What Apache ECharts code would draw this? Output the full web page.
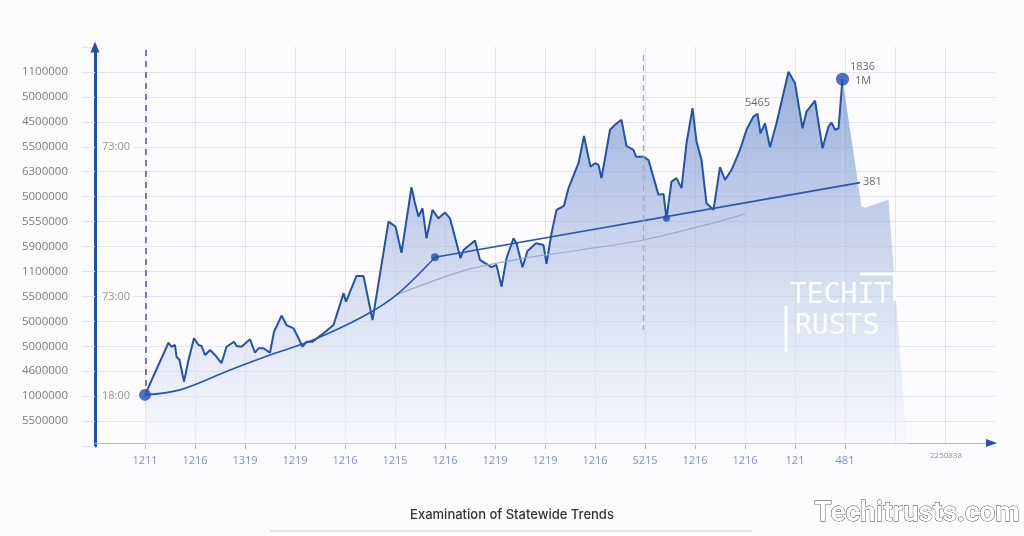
<!DOCTYPE html>
<html><head><meta charset="utf-8">
<script src="https://cdn.jsdelivr.net/npm/echarts@6/dist/echarts.min.js"></script>
<style>html,body{margin:0;padding:0;background:#fcfcfe}#c{width:1024px;height:536px}</style>
</head><body><div id="c"></div><script>
// ---- data (x in tick units, y in tick units) ----
const xTickLabels = ["1211","1216","1319","1219","1216","1215","1216","1219","1219","1216","5215","1216","1216","121","481"];
const yTickLabels = ["5500000","1000000","4600000","5000000","5000000","5500000","1100000","5900000","5550000","5000000","6300000","5500000","4500000","5000000","1100000"];
const xEndLabel = "2250838";

const mainX = [1.00,1.47,1.53,1.60,1.63,1.69,1.78,1.87,1.98,2.07,2.13,2.20,2.30,2.40,2.53,2.63,2.78,2.83,2.93,3.10,3.20,3.27,3.37,3.50,3.58,3.63,3.73,3.83,3.97,4.07,4.15,4.23,4.35,4.57,4.77,4.97,5.02,5.23,5.37,5.55,5.87,6.01,6.13,6.33,6.40,6.47,6.55,6.63,6.75,6.87,7.00,7.10,7.31,7.37,7.60,7.70,7.93,8.03,8.13,8.23,8.37,8.43,8.55,8.65,8.82,8.97,9.03,9.13,9.23,9.38,9.47,9.67,9.78,9.91,10.00,10.07,10.13,10.30,10.40,10.53,10.63,10.77,10.82,10.97,11.07,11.27,11.37,11.43,11.53,11.63,11.73,11.83,11.95,12.03,12.13,12.23,12.37,12.50,12.60,12.73,12.90,13.03,13.17,13.25,13.31,13.40,13.50,13.63,13.87,14.00,14.15,14.23,14.40,14.55,14.67,14.73,14.80,14.87,14.95];
const mainY = [2.05,4.14,3.98,4.05,3.58,3.45,2.58,3.45,4.32,4.05,4.01,3.65,3.85,3.65,3.32,3.98,4.18,4.01,3.98,4.28,3.74,3.92,3.92,3.74,4.58,4.79,5.23,4.85,4.72,4.32,3.98,4.18,4.18,4.52,4.85,6.12,5.79,6.82,6.82,5.05,9.00,8.80,7.75,10.38,9.73,9.20,9.53,8.33,9.47,9.13,9.36,9.13,7.53,7.86,8.24,7.46,7.17,7.26,6.39,7.53,8.33,8.13,7.17,7.82,8.13,8.06,7.30,8.53,9.47,9.63,10.34,11.34,12.43,11.20,11.34,11.27,10.74,12.68,12.88,13.08,12.03,11.87,11.60,11.60,11.47,10.07,10.11,9.13,10.60,10.74,10.34,12.14,13.55,12.21,11.47,9.73,9.47,11.18,10.67,11.07,11.87,12.68,13.21,13.32,12.54,12.94,11.98,12.94,15.01,14.55,12.74,13.41,13.85,11.94,12.81,12.97,12.68,12.74,14.71];

const tailX = [14.95,15.33,15.40,15.87,16.20,16.24];
const tailY = [14.71,9.60,9.55,9.87,1.04,0];

const trendAX = [1.00,1.70,2.70,3.50,4.36,5.36,6.03,6.80];
const trendAY = [2.05,2.25,3.05,3.65,4.25,5.19,6.06,7.57];
const trendBX = [6.80,15.30];
const trendBY = [7.57,10.56];
const trendCX = [6.03,7.36,8.50,9.70,10.96,12.36,13.00];
const trendCY = [6.06,7.02,7.50,7.86,8.26,8.94,9.31];

const dotX = [1.00,6.80,11.43,14.95];
const dotY = [2.05,7.57,9.13,14.71];

const noteTexts = ["1836","1M","5465","381"];
const noteX = [15.10,15.20,13.00,15.36];
const noteY = [15.20,14.64,13.76,10.59];

const sideTexts = ["73:00","73:00","18:00"];
const sideX = [0.42,0.42,0.42];
const sideY = [12.0,5.98,2.0];

const vline1 = {x:1.02, y0:15.88, y1:2.05};
const vline2 = {x:10.96, y0:15.68, y1:4.65};

// ---- chart ----
const zip = (xs, ys) => xs.map((x,i)=>[x, ys[i]]);
const grad = {type:'linear', x:0, y:70, x2:0, y2:446, global:true, colorStops:[
  {offset:0, color:'rgba(96,131,198,0.92)'},
  {offset:0.35, color:'rgba(150,172,219,0.85)'},
  {offset:0.61, color:'rgba(190,204,233,0.8)'},
  {offset:0.87, color:'rgba(224,230,245,0.75)'},
  {offset:1, color:'rgba(243,245,251,0.6)'}]};
const catData = [''].concat(xTickLabels, ['', '', '']);
const gridColor = '#e2e6ee';
const wm = 'rgba(255,255,255,0.96)';

const chart = echarts.init(document.getElementById('c'), null, {renderer:'canvas'});
chart.setOption({
  backgroundColor:'#fcfcfe',
  animation:false,
  title:{text:'Examination of Statewide Trends', left:'center', top:504,
    textStyle:{fontFamily:'Inter', fontSize:13, fontWeight:500, color:'#333'}},
  grid:{left:95, right:29, top:47, bottom:90},
  xAxis:[{
    type:'category', data:catData, boundaryGap:false, offset:-3,
    axisLine:{lineStyle:{color:'#a7b5d8', width:1.2}},
    axisTick:{show:true, interval:(i)=>i>=1&&i<=15, length:6, lineStyle:{color:'#aab3c6'}},
    axisLabel:{interval:0, margin:12, color:'#8393b6', fontFamily:'Open Sans', fontSize:11},
    splitLine:{show:true, interval:(i)=>i>=1&&i<=17, lineStyle:{color:gridColor, width:1}}
  },{
    type:'value', min:0, max:18, show:false
  }],
  yAxis:{
    type:'value', min:0, max:16, interval:1, offset:7,
    axisLine:{show:true, lineStyle:{color:'#2352a8', width:3}, symbol:['none','triangle'], symbolSize:[9,11]},
    axisTick:{show:true, length:13, lineStyle:{color:gridColor}},
    axisLabel:{margin:20, color:'#7c7c7c', fontFamily:'Open Sans', fontSize:11.5,
      formatter:(v)=> (v>=1 && v<=15 && Number.isInteger(v)) ? yTickLabels[v-1] : ''},
    splitLine:{show:true, showMinLine:false, showMaxLine:false, lineStyle:{color:gridColor, width:1}}
  },
  graphic:[
    {type:'line', shape:{x1:270,y1:531,x2:752,y2:531}, style:{stroke:'#c9c9c9', lineWidth:1}},
    {type:'text', left:930, top:452, style:{text:xEndLabel, fill:'#8393b6', font:'8px "Open Sans"'}},
    {type:'text', z:100, left:790, top:282, style:{text:'TECHIT', fill:wm, font:'28px "DejaVu Sans Mono"'}},
    {type:'text', z:100, left:795, top:313, style:{text:'RUSTS', fill:wm, font:'28px "DejaVu Sans Mono"'}},
    {type:'rect', z:100, shape:{x:784.5, y:306, width:3, height:46}, style:{fill:wm}},
    {type:'rect', z:100, shape:{x:860, y:272.5, width:36, height:3}, style:{fill:wm}},
    {type:'rect', z:100, shape:{x:893, y:272.5, width:3, height:28}, style:{fill:wm}},
    {type:'text', z:100, right:4, top:500, style:{text:'Techitrusts.com', fill:'#ffffff', font:'bold 28px Roboto',
      stroke:'#333', lineWidth:0.8, shadowBlur:5, shadowColor:'rgba(0,0,0,0.85)'}}
  ],
  series:[
    {type:'line', name:'tail', xAxisIndex:1, data:zip(tailX, tailY), symbol:'none', z:2,
      lineStyle:{width:0, opacity:0}, areaStyle:{color:grad}},
    {type:'line', name:'main', xAxisIndex:1, data:zip(mainX, mainY), symbol:'none', z:3,
      lineStyle:{color:'#2352a8', width:2}, areaStyle:{color:grad}},
    {type:'line', name:'trendC', xAxisIndex:1, data:zip(trendCX, trendCY), symbol:'none', smooth:0.3, z:4, clip:false,
      lineStyle:{color:'#9cabcf', width:1.2},
      markLine:{silent:true, symbol:'none', label:{show:false}, data:[
        [{coord:[vline1.x, vline1.y0], lineStyle:{color:'#767bb4', width:2, type:[6,5]}},{coord:[vline1.x, vline1.y1]}],
        [{coord:[vline2.x, vline2.y0], lineStyle:{color:'#a3a7c3', width:1.3, type:[6,4]}},{coord:[vline2.x, vline2.y1]}],
        [{coord:[-0.14, 0.12], lineStyle:{color:'#2352a8', width:3, type:'solid'}},{coord:[16, 0.12]}]
      ]},
      markPoint:{silent:true, label:{show:false}, data:[
        {coord:[17.93, 0.12], symbol:'triangle', symbolSize:[8,11], symbolRotate:-90, itemStyle:{color:'#2352a8'}}
      ]}},
    {type:'line', name:'trendA', xAxisIndex:1, data:zip(trendAX, trendAY), symbol:'none', smooth:0.35, z:4,
      lineStyle:{color:'#2b56a6', width:1.6}},
    {type:'line', name:'trendB', xAxisIndex:1, data:zip(trendBX, trendBY), symbol:'none', z:4,
      lineStyle:{color:'#2b56a6', width:1.6}},
    {type:'scatter', name:'dots', xAxisIndex:1, data:zip(dotX, dotY), z:6,
      symbolSize:(v, p)=>[12,8,7,13][p.dataIndex], itemStyle:{color:'#1f4fb0'}},
    {type:'scatter', name:'notes', xAxisIndex:1, data:zip(noteX, noteY), symbolSize:0, z:7,
      label:{show:true, position:'inside', align:'left', color:'#4a4a4a', fontFamily:'Open Sans', fontSize:11,
        formatter:(p)=>noteTexts[p.dataIndex]}},
    {type:'scatter', name:'side', xAxisIndex:1, data:zip(sideX, sideY), symbolSize:0, z:7,
      label:{show:true, position:'inside', align:'center', color:'#7a7a7a', fontFamily:'Open Sans', fontSize:11,
        backgroundColor:'#fcfcfe', padding:[1,3], formatter:(p)=>sideTexts[p.dataIndex]}}
  ]
});
</script></body></html>
